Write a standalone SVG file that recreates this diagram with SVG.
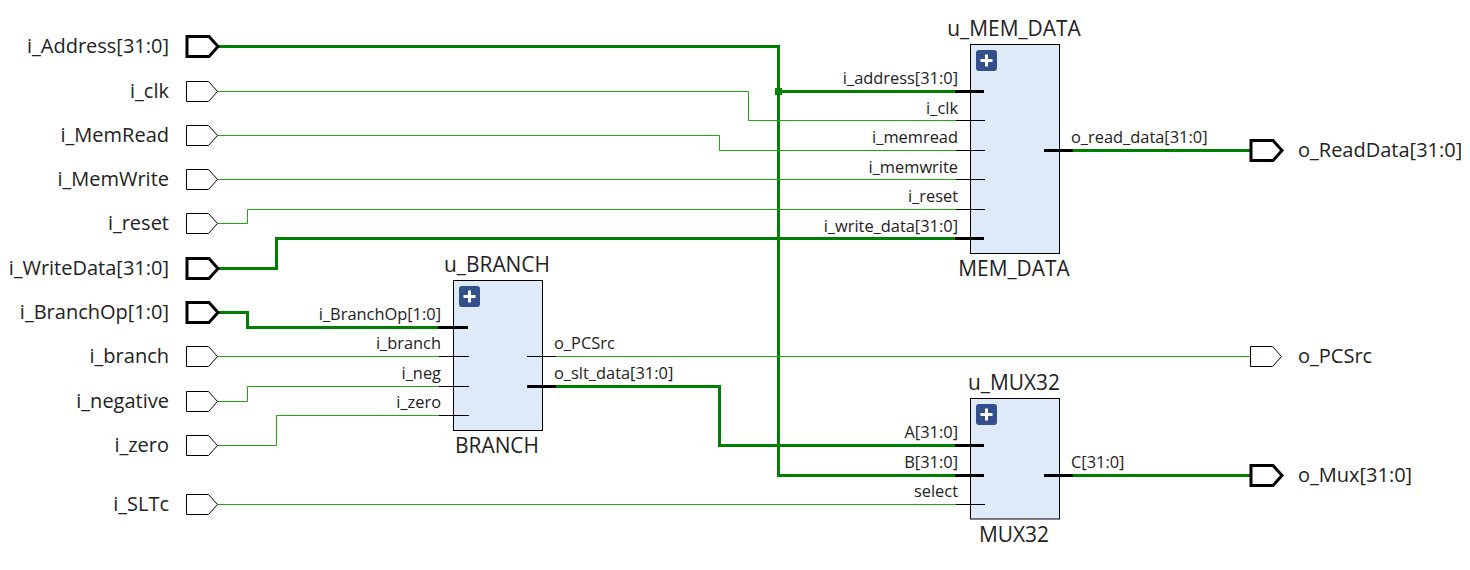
<svg xmlns="http://www.w3.org/2000/svg" width="1470" height="570" viewBox="0 0 1470 570">
<style>
text{font-family:"Open Sans","Noto Sans","DejaVu Sans",sans-serif;fill:#222}
.l{font-size:20px}
.u{font-size:20.9px}
.p{font-size:16.4px}
.e{text-anchor:end}
.m{text-anchor:middle}
.w{fill:none;stroke:#22a512;stroke-width:1}
.b{fill:none;stroke:#008000;stroke-width:3}
.s{fill:none;stroke:#000;stroke-width:1}
.t{fill:none;stroke:#000;stroke-width:3}
.pt{fill:#fff;stroke:#000;stroke-width:1}
.pb{fill:#fff;stroke:#000;stroke-width:3}
.box{fill:#deeaf8;stroke:#000;stroke-width:1}
.btn{fill:#34508c}
.plus{fill:none;stroke:#fff;stroke-width:3}
</style>
<defs>
<polygon id="port" points="0,-10 22,-10 31,0 22,10 0,10"/>
<g id="exp"><rect class="btn" width="21" height="21" rx="3"/><path class="plus" d="M4.500 10.500H16.500M10.500 4.500V16.500"/></g>
</defs>
<g id="connectors">
<path class="b" d="M217 46.500H778.500V475.500H955"/>
<path class="b" d="M778.500 91.500H955"/>
<rect x="775" y="88" width="7" height="7" fill="#008000"/>
<path class="w" d="M217 91.500H748.500V120.500H956"/>
<path class="w" d="M217 135.500H719.500V150.500H956"/>
<path class="w" d="M217 179.500H956"/>
<path class="w" d="M217 223.500H247.500V209.500H956"/>
<path class="b" d="M217 268.500H276.500V238.500H955"/>
<path class="b" d="M217 312.500H247.500V327.500H438"/>
<path class="w" d="M217 356.500H439"/>
<path class="w" d="M217 401.500H247.500V386.500H439"/>
<path class="w" d="M217 445.500H276.500V415.500H439"/>
<path class="w" d="M217 504.500H956"/>
<path class="w" d="M556 356.500H1250"/>
<path class="b" d="M556 386.500H719.500V445.500H955"/>
<path class="b" d="M1073 150.500H1250"/>
<path class="b" d="M1073 475.500H1250"/>
</g>
<g id="i_Address"><use href="#port" x="187" y="46.500" class="pb"/><text class="l e" x="169" y="53">i_Address[31:0]</text></g>
<g id="i_clk"><use href="#port" x="186.500" y="91.500" class="pt"/><text class="l e" x="169" y="98">i_clk</text></g>
<g id="i_MemRead"><use href="#port" x="186.500" y="135.500" class="pt"/><text class="l e" x="169" y="142">i_MemRead</text></g>
<g id="i_MemWrite"><use href="#port" x="186.500" y="179.500" class="pt"/><text class="l e" x="169" y="186">i_MemWrite</text></g>
<g id="i_reset"><use href="#port" x="186.500" y="223.500" class="pt"/><text class="l e" x="169" y="230">i_reset</text></g>
<g id="i_WriteData"><use href="#port" x="187" y="268.500" class="pb"/><text class="l e" x="169" y="275">i_WriteData[31:0]</text></g>
<g id="i_BranchOp"><use href="#port" x="187" y="312.500" class="pb"/><text class="l e" x="169" y="319">i_BranchOp[1:0]</text></g>
<g id="i_branch"><use href="#port" x="186.500" y="356.500" class="pt"/><text class="l e" x="169" y="363">i_branch</text></g>
<g id="i_negative"><use href="#port" x="186.500" y="401.500" class="pt"/><text class="l e" x="169" y="408">i_negative</text></g>
<g id="i_zero"><use href="#port" x="186.500" y="445.500" class="pt"/><text class="l e" x="169" y="452">i_zero</text></g>
<g id="i_SLTc"><use href="#port" x="186.500" y="504.500" class="pt"/><text class="l e" x="169" y="511">i_SLTc</text></g>
<g id="o_ReadData"><use href="#port" x="1251" y="150.500" class="pb"/><text class="l" x="1298" y="157">o_ReadData[31:0]</text></g>
<g id="o_PCSrc"><use href="#port" x="1250.500" y="356.500" class="pt"/><text class="l" x="1298" y="363">o_PCSrc</text></g>
<g id="o_Mux"><use href="#port" x="1251" y="475.500" class="pb"/><text class="l" x="1298" y="482">o_Mux[31:0]</text></g>
<g id="u_MEM_DATA">
<text class="u m" x="1014" y="36">u_MEM_DATA</text>
<rect class="box" x="970.500" y="44.500" width="89" height="209"/>
<use href="#exp" x="976" y="50"/>
<path class="t" d="M955 91.500H984M955 238.500H984M1044 150.500H1073"/>
<path class="s" d="M956 120.500H985M956 150.500H985M956 179.500H985M956 209.500H985"/>
<text class="p e" x="958" y="84">i_address[31:0]</text>
<text class="p e" x="958" y="114">i_clk</text>
<text class="p e" x="958" y="143">i_memread</text>
<text class="p e" x="958" y="173">i_memwrite</text>
<text class="p e" x="958" y="202">i_reset</text>
<text class="p e" x="958" y="232">i_write_data[31:0]</text>
<text class="p" x="1071" y="143">o_read_data[31:0]</text>
<text class="u m" x="1014" y="276">MEM_DATA</text>
</g>
<g id="u_BRANCH">
<text class="u m" x="497" y="272">u_BRANCH</text>
<rect class="box" x="453.500" y="280.500" width="89" height="150"/>
<use href="#exp" x="459" y="286"/>
<path class="t" d="M438 327.500H468M527 386.500H556"/>
<path class="s" d="M439 356.500H469M439 386.500H469M439 415.500H469M527 356.500H556"/>
<text class="p e" x="441" y="320">i_BranchOp[1:0]</text>
<text class="p e" x="441" y="349">i_branch</text>
<text class="p e" x="441" y="379">i_neg</text>
<text class="p e" x="441" y="408">i_zero</text>
<text class="p" x="554" y="349">o_PCSrc</text>
<text class="p" x="554" y="379">o_slt_data[31:0]</text>
<text class="u m" x="497" y="453">BRANCH</text>
</g>
<g id="u_MUX32">
<text class="u m" x="1014" y="390">u_MUX32</text>
<rect class="box" x="970.500" y="398.500" width="89" height="120.500"/>
<use href="#exp" x="976" y="404"/>
<path class="t" d="M955 445.500H984M955 475.500H984M1044 475.500H1073"/>
<path class="s" d="M956 504.500H985"/>
<text class="p e" x="958" y="438">A[31:0]</text>
<text class="p e" x="958" y="468">B[31:0]</text>
<text class="p e" x="958" y="497">select</text>
<text class="p" x="1071" y="468">C[31:0]</text>
<text class="u m" x="1014" y="542">MUX32</text>
</g>
</svg>
